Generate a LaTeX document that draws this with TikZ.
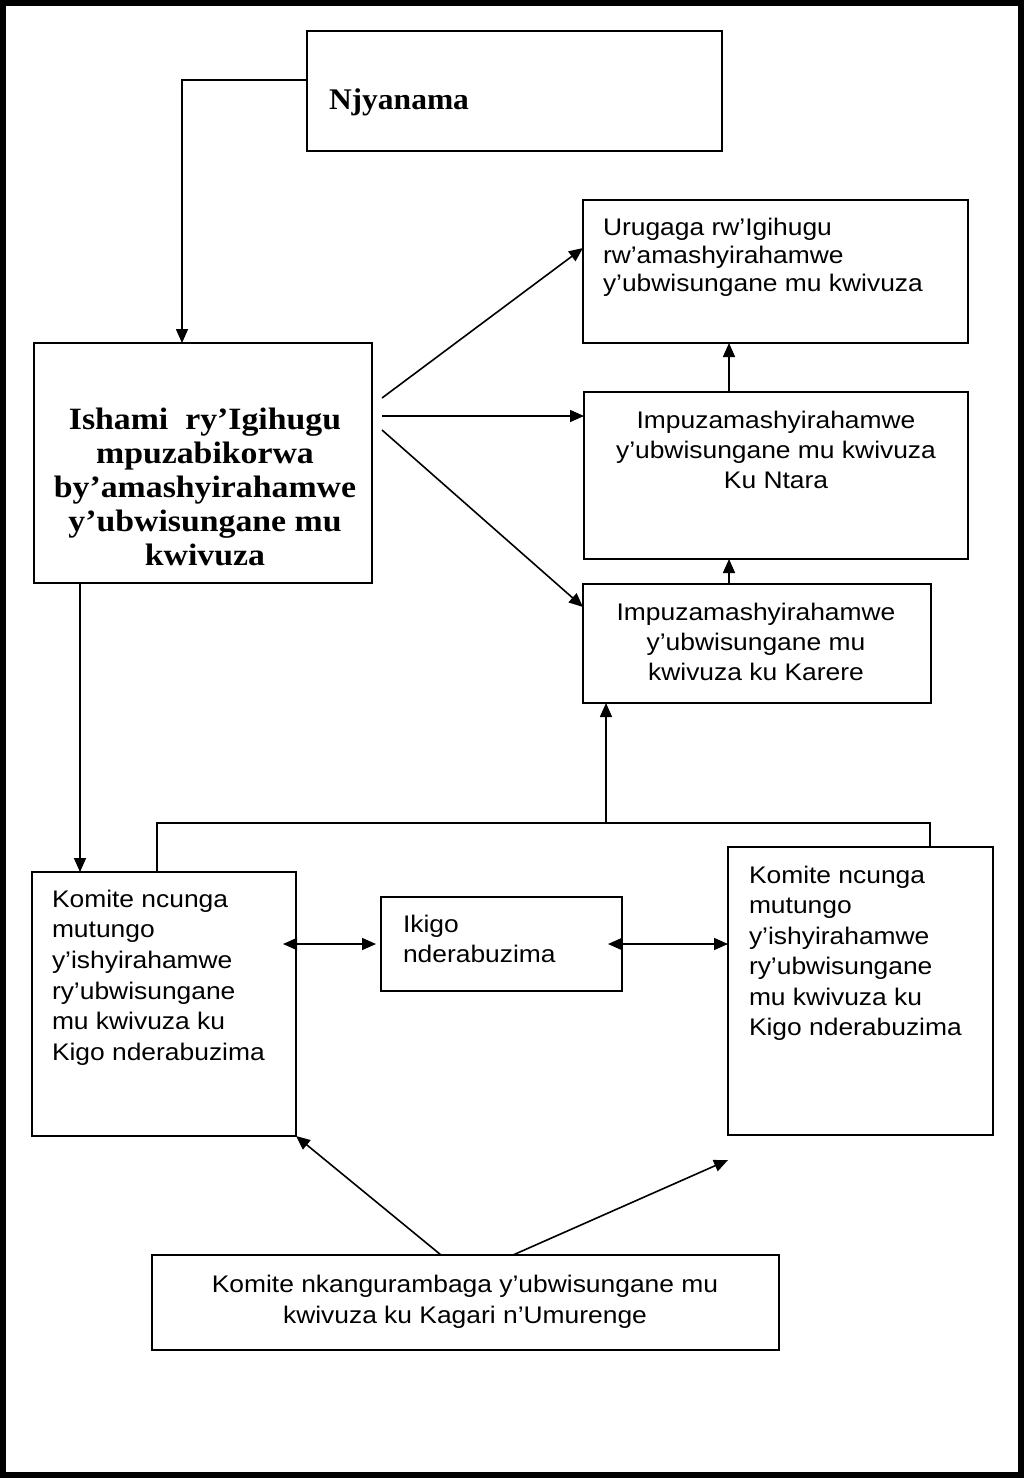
\documentclass[tikz,border=0pt]{standalone}
\usepackage{fontspec}
\usetikzlibrary{arrows.meta,calc}
\newfontfamily\sansA[FakeStretch=1.1]{Liberation Sans}
\newfontfamily\serifB[FakeStretch=1.09]{Liberation Serif}
\newfontfamily\serifN[FakeStretch=1.05]{Liberation Serif}
\tikzset{
  boxst/.style={draw=black, line width=1.8pt, inner sep=0pt, outer sep=0pt},
  txt/.style={inner sep=0pt, outer sep=0pt},
  conn/.style={line width=1.6pt},
  arr/.style={conn, -{Triangle[length=14pt,width=12pt]}},
  arrtwo/.style={conn, {Triangle[length=14pt,width=12pt]}-{Triangle[length=14pt,width=12pt]}},
}
\newcommand\mkbox[5]{\node[boxst, anchor=north west, minimum width=#4pt, minimum height=#5pt] (#1) at (#2,#3) {};}
\newcommand\sanstxt[2]{\sansA\fontsize{24}{#1}\selectfont #2}
\begin{document}
\begin{tikzpicture}[x=1pt,y=-1pt]
\useasboundingbox (0,0) rectangle (1024,1478);
\fill[white] (0,0) rectangle (1024,1478);
\draw[line width=6pt] (3,3) rectangle (1021,1475);

% boxes
\mkbox{njy}{307}{31}{415}{120}
\mkbox{uru}{583}{200}{385}{143}
\mkbox{ish}{34}{343}{338}{240}
\mkbox{ntara}{584}{392}{384}{167}
\mkbox{karere}{583}{584}{348}{119}
\mkbox{komL}{32}{872}{264}{264}
\mkbox{ik}{381}{897}{241}{94}
\mkbox{komR}{728}{847}{265}{288}
\mkbox{bot}{152}{1255}{627}{95}

% texts
\node[txt, anchor=base west] (tnjy) at (329,109) {\serifN\bfseries\fontsize{30}{34}\selectfont Njyanama};
\node[txt, anchor=base west] (turu) at (603,235) {\parbox[t]{360pt}{\raggedright\sanstxt{28}{Urugaga rw’Igihugu\\rw’amashyirahamwe\\y’ubwisungane mu kwivuza}}};
\node[txt, anchor=base] (tish) at (205,429) {\parbox[t]{330pt}{\centering\serifB\bfseries\fontsize{31}{34}\selectfont Ishami\ \ ry’Igihugu\\mpuzabikorwa\\by’amashyirahamwe\\y’ubwisungane mu\\kwivuza}};
\node[txt, anchor=base] (tntara) at (776,428) {\parbox[t]{380pt}{\centering\sanstxt{30}{Impuzamashyirahamwe\\y’ubwisungane mu kwivuza\\Ku Ntara}}};
\node[txt, anchor=base] (tkarere) at (756,620) {\parbox[t]{340pt}{\centering\sanstxt{30}{Impuzamashyirahamwe\\y’ubwisungane mu\\kwivuza ku Karere}}};
\node[txt, anchor=base west] (tkomL) at (52,907) {\parbox[t]{240pt}{\raggedright\sanstxt{30.7}{Komite ncunga\\mutungo\\y’ishyirahamwe\\ry’ubwisungane\\mu kwivuza ku\\Kigo nderabuzima}}};
\node[txt, anchor=base west] (tkomR) at (749,883) {\parbox[t]{240pt}{\raggedright\sanstxt{30.5}{Komite ncunga\\mutungo\\y’ishyirahamwe\\ry’ubwisungane\\mu kwivuza ku\\Kigo nderabuzima}}};
\node[txt, anchor=base west] (tik) at (403,932) {\parbox[t]{210pt}{\raggedright\sanstxt{30}{Ikigo\\nderabuzima}}};
\node[txt, anchor=base] (tbot) at (465,1292) {\parbox[t]{620pt}{\centering\sanstxt{31}{Komite nkangurambaga y’ubwisungane mu\\kwivuza ku Kagari n’Umurenge}}};

% connectors
\draw[arr] ([yshift=11pt]njy.west) -| ([xshift=-21pt]ish.north);
\coordinate (a1) at (382,398);
\coordinate (a2) at (382,416);
\coordinate (a3) at (382,430);
\draw[arr] (a1) -- ([yshift=-48pt]uru.north west);
\draw[arr] (a2) -- (a2 -| ntara.west);
\draw[arr] (a3) -- ([yshift=-23pt]karere.north west);
\draw[arr] ([xshift=-47pt]ntara.north) -- ([xshift=-47pt]ntara.north |- uru.south);
\draw[arr] ([xshift=-28pt]karere.north) -- ([xshift=-28pt]karere.north |- ntara.south);
\draw[arr] ([xshift=-123pt]ish.south) -- ([xshift=-123pt]ish.south |- komL.north);
\coordinate (brL) at (157,823);
\coordinate (brM) at (606,823);
\coordinate (brR) at (930,823);
\draw[conn] (brL |- komL.north) -- (brL) -- (brR) -- (brR |- komR.north);
\draw[arr] (brM) -- (brM |- karere.south);
\draw[arrtwo] ([xshift=-13pt]komL.east |- ik.west) -- ([xshift=-5pt]ik.west);
\draw[arrtwo] ([xshift=-14pt]ik.east) -- (komR.west |- ik.east);
\coordinate (tipR) at (728,1160);
\draw[arr] ([xshift=-24.5pt]bot.north) -- (komL.south east);
\draw[arr] ([xshift=47.5pt]bot.north) -- (tipR);
\end{tikzpicture}
\end{document}
